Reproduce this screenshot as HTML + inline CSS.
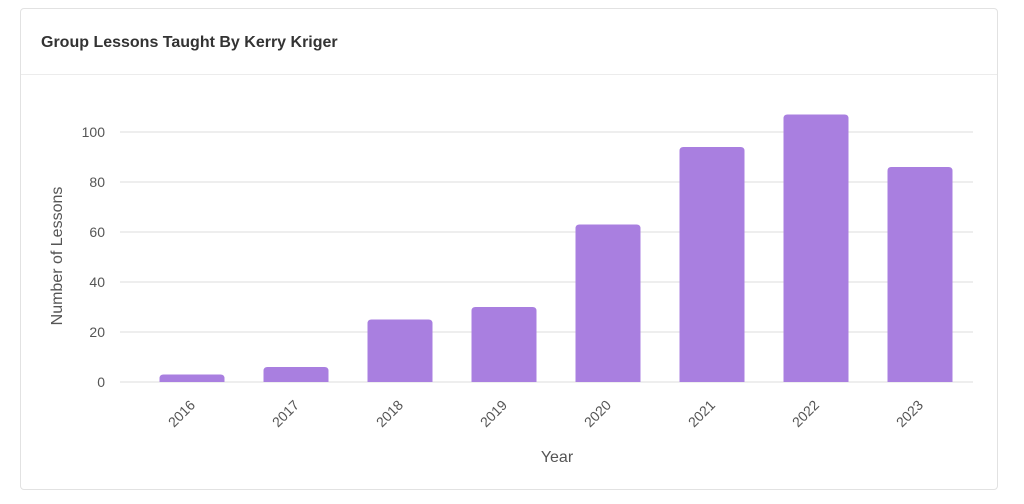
<!DOCTYPE html>
<html><head><meta charset="utf-8"><style>
body{margin:0;background:#fff;font-family:"Liberation Sans",sans-serif;}
.card{position:absolute;left:20px;top:8px;width:978px;height:482px;border:1px solid #e2e2e2;border-radius:4px;box-sizing:border-box;}
.hdr{height:65px;border-bottom:1px solid #ececec;}
.title{position:absolute;left:20px;top:25px;font-size:16px;font-weight:bold;color:#333;}
svg{position:absolute;left:0;top:0}
</style></head><body>
<div class="card"><div class="hdr"></div>
<div class="title">Group Lessons Taught By Kerry Kriger</div></div>
<svg id="c" width="1024" height="504"></svg>
<script>
const categories=["2016","2017","2018","2019","2020","2021","2022","2023"];
const values=[3,6,25,30,63,94,107,86];
const yTicks=[0,20,40,60,80,100];
const NS="http://www.w3.org/2000/svg",svg=document.getElementById('c');
const x0=140,band=104,y0=382,ppu=2.5,gx0=120,gx1=973;
const y=v=>y0-v*ppu, x=i=>x0+i*band;
function mk(t,a,txt){const e=document.createElementNS(NS,t);for(const k in a)e.setAttribute(k,a[k]);if(txt!=null)e.textContent=txt;svg.appendChild(e);return e;}
yTicks.forEach(v=>{
 const l=mk('line',{x1:gx0,x2:gx1,y1:y(v),y2:y(v),stroke:'#dedede','stroke-width':1});
 
 
 const t=mk('text',{x:105,y:y(v)+5,'text-anchor':'end','font-size':14,fill:'#555'},v);
 
 
});
categories.forEach((c,i)=>{
 const cx=x(i)+band/2,w=65,h=values[i]*ppu,top=y(values[i]);
 const p=mk('path',{d:`M${cx-w/2},${y0} V${top+4} Q${cx-w/2},${top} ${cx-w/2+4},${top} H${cx+w/2-4} Q${cx+w/2},${top} ${cx+w/2},${top+4} V${y0} Z`,fill:'#a97fe0'});
 
 
 const t=mk('text',{x:cx+4,y:y0+24,'text-anchor':'end','font-size':14,fill:'#555',transform:`rotate(-45 ${cx+4} ${y0+24})`},c);
 
 
});
const xt=mk('text',{x:557,y:462,'text-anchor':'middle','font-size':16,fill:'#555'},'Year');


const yt=mk('text',{x:62,y:256,'text-anchor':'middle','font-size':16,fill:'#555',transform:'rotate(-90 62 256)'},'Number of Lessons');


</script>
</body></html>
